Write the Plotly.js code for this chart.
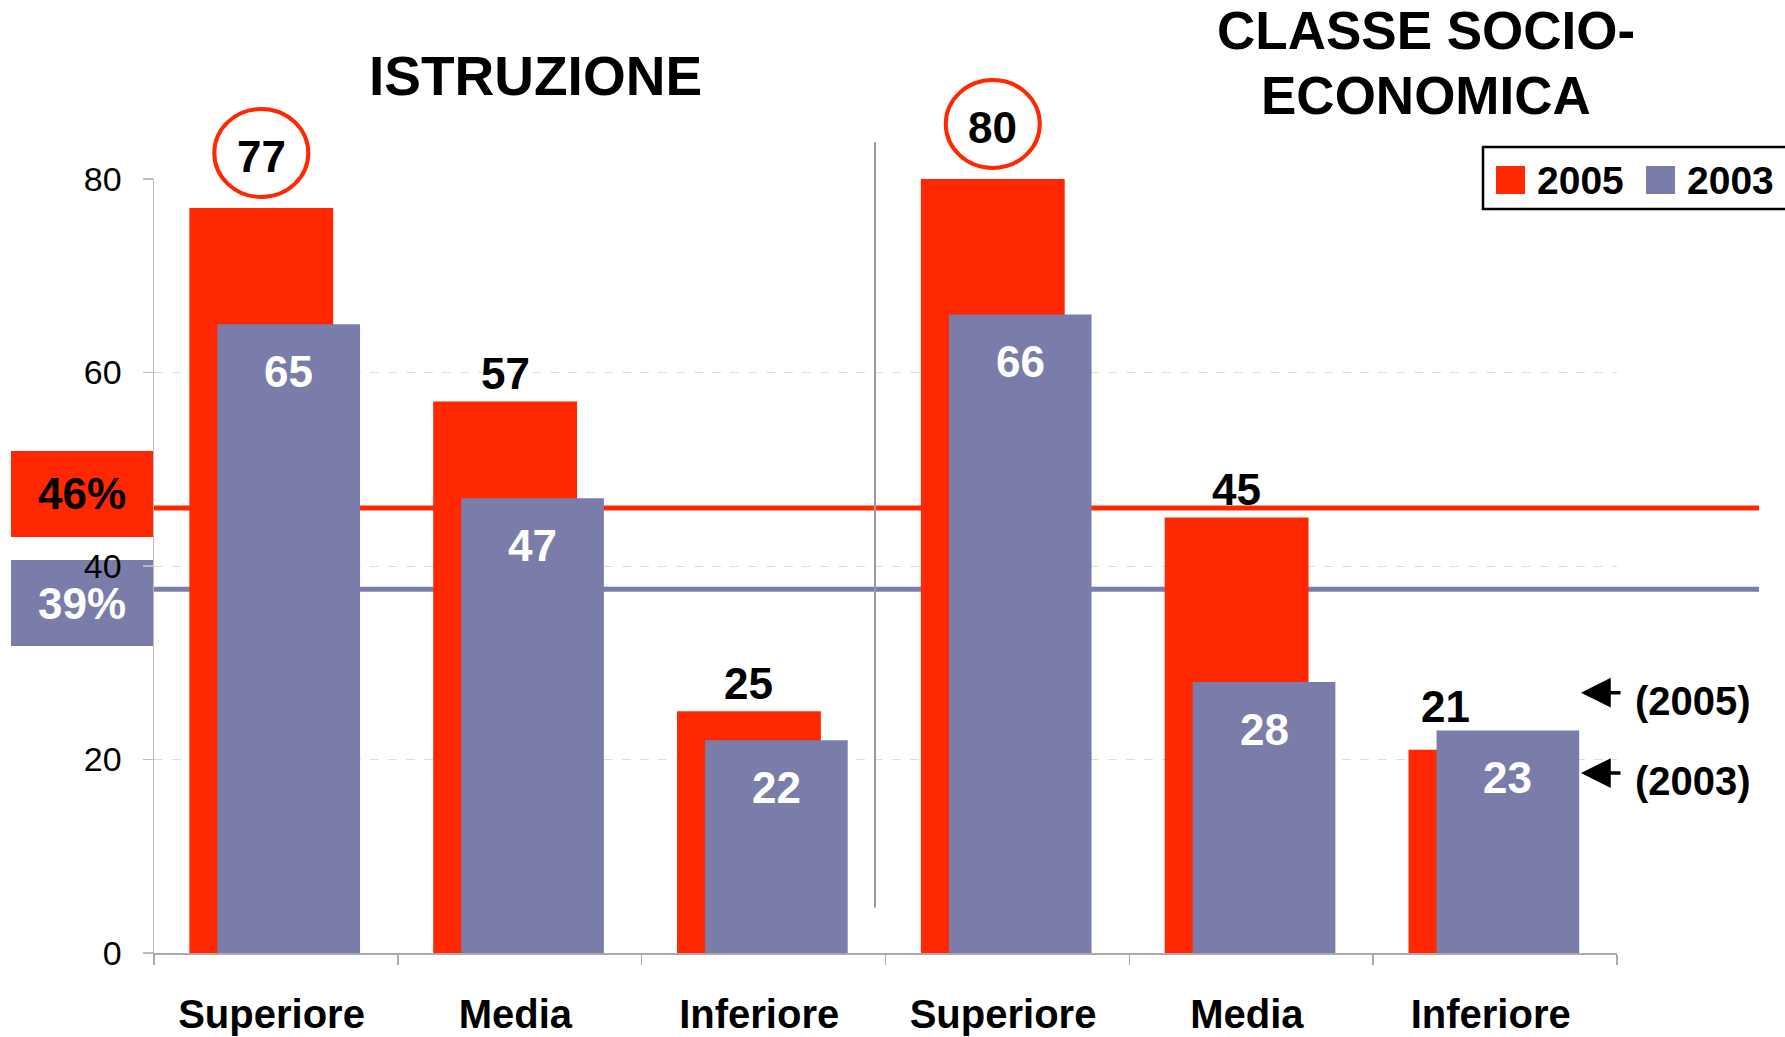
<!DOCTYPE html>
<html>
<head>
<meta charset="utf-8">
<script src="https://cdn.plot.ly/plotly-3.0.1.min.js"></script>
<style>html,body{margin:0;padding:0;background:#fff;}#chart{width:1785px;height:1037px;}</style>
</head>
<body>
<div id="chart"></div>
<script>
// ---- data ----
const categories = ['Superiore', 'Media', 'Inferiore', 'Superiore', 'Media', 'Inferiore'];
const groupTitles = ['ISTRUZIONE', 'CLASSE SOCIO-', 'ECONOMICA'];
const seriesNames = ['2005', '2003'];
const values2005 = [77, 57, 25, 80, 45, 21];
const values2003 = [65, 47, 22, 66, 28, 23];
const refValues = [46, 37.6];
const refLabels = ['46%', '39%'];
const arrowLabels = ['(2005)', '(2003)'];
const arrowValues = [26.9, 18.6];
const yTicks = [0, 20, 40, 60, 80];
const yRange = [0, 80];

// ---- style ----
const RED = 'rgb(255,40,0)';
const BLUE = 'rgb(122,125,170)';
const FONT = 'Liberation Sans, Arial, Helvetica, sans-serif';
const W = 1785, H = 1037;
const M = {l: 154, r: 168, t: 179, b: 84};
const PW = W - M.l - M.r, PH = H - M.t - M.b;
const px2x = p => (p - M.l) / PW;
const py2y = p => (H - M.b - p) / PH;
const v2paper = v => (v - yRange[0]) / (yRange[1] - yRange[0]);

const xs = categories.map((_, i) => i);
const RED_W = 0.59, RED_OFF = -0.355;
const BLUE_W = 0.585, BLUE_OFF = -0.24;
const redCenter = RED_OFF + RED_W / 2;
const blueCenter = BLUE_OFF + BLUE_W / 2;
const LABEL_NUDGE = -0.018;

const traces = [
  {type: 'bar', name: seriesNames[0], x: xs, y: values2005, width: RED_W, offset: RED_OFF,
   marker: {color: RED}, hoverinfo: 'skip', showlegend: false},
  {type: 'bar', name: seriesNames[1], x: xs, y: values2003, width: BLUE_W, offset: BLUE_OFF,
   marker: {color: BLUE}, hoverinfo: 'skip', showlegend: false}
];

// group maxima get circles
const circled = [];
for (let g = 0; g < categories.length; g += 3) {
  let best = g;
  for (let k = g; k < g + 3; k++) if (values2005[k] > values2005[best]) best = k;
  circled.push(best);
}

const shapes = [];
const annotations = [];

// reference lines and boxes
const refColors = [RED, BLUE];
const refTextColors = ['black', 'white'];
const boxCentersPx = [494, 603];
refValues.forEach((v, i) => {
  shapes.push({type: 'line', layer: 'below', xref: 'paper', yref: 'y', x0: 0, x1: px2x(1759), y0: v, y1: v,
    line: {color: refColors[i], width: 5}});
  shapes.push({type: 'rect', layer: 'below', xref: 'paper', yref: 'paper', x0: px2x(11), x1: 0,
    y0: py2y(boxCentersPx[i] + 43), y1: py2y(boxCentersPx[i] - 43), fillcolor: refColors[i], line: {width: 0}});
  annotations.push({xref: 'paper', yref: 'paper', x: px2x(82), y: py2y(boxCentersPx[i]), text: '<b>' + refLabels[i] + '</b>',
    showarrow: false, xanchor: 'center', yanchor: 'middle', font: {family: FONT, size: 44, color: refTextColors[i]}});
});

// separator between groups
shapes.push({type: 'line', xref: 'paper', yref: 'paper', x0: px2x(875), x1: px2x(875), y0: v2paper(4.7), y1: v2paper(83.8),
  line: {color: '#999', width: 2}});

// circles
circled.forEach(i => {
  shapes.push({type: 'circle', xref: 'x', yref: 'paper', xsizemode: 'pixel', ysizemode: 'pixel',
    xanchor: i + redCenter, yanchor: v2paper(values2005[i]), x0: -47, x1: 47, y0: 11, y1: 99,
    line: {color: RED, width: 4}});
});

// value labels
xs.forEach(i => {
  const v5 = values2005[i], v3 = values2003[i];
  let ax = i + redCenter, ay = v5, shift = 28;
  if (v3 > v5) { ax = i - 0.203; ay = v3; shift = 24; }
  else if (circled.includes(i)) { shift = 52; }
  annotations.push({xref: 'x', yref: 'y', x: ax, y: ay, yshift: shift, text: '<b>' + v5 + '</b>',
    showarrow: false, xanchor: 'center', yanchor: 'middle', font: {family: FONT, size: 44, color: 'black'}});
  annotations.push({xref: 'x', yref: 'y', x: i + blueCenter, y: v3, yshift: -47, text: '<b>' + v3 + '</b>',
    showarrow: false, xanchor: 'center', yanchor: 'middle', font: {family: FONT, size: 44, color: 'white'}});
});

// group titles
annotations.push({xref: 'paper', yref: 'paper', x: px2x(535), y: py2y(76), text: '<b>' + groupTitles[0] + '</b>',
  showarrow: false, xanchor: 'center', yanchor: 'middle', font: {family: FONT, size: 55, color: 'black'}});
annotations.push({xref: 'paper', yref: 'paper', x: px2x(1426), y: py2y(31), text: '<b>' + groupTitles[1] + '</b>',
  showarrow: false, xanchor: 'center', yanchor: 'middle', font: {family: FONT, size: 53, color: 'black'}});
annotations.push({xref: 'paper', yref: 'paper', x: px2x(1426), y: py2y(95), text: '<b>' + groupTitles[2] + '</b>',
  showarrow: false, xanchor: 'center', yanchor: 'middle', font: {family: FONT, size: 53, color: 'black'}});

// arrows
arrowValues.forEach((v, i) => {
  annotations.push({xref: 'paper', yref: 'y', x: px2x(1581), y: v, ax: 41, ay: 0, text: '',
    showarrow: true, arrowhead: 2, arrowsize: 1.7, arrowwidth: 3.5, arrowcolor: 'black', standoff: 0});
  annotations.push({xref: 'paper', yref: 'y', x: px2x(1633), y: v, yshift: -8, text: '<b>' + arrowLabels[i] + '</b>',
    showarrow: false, xanchor: 'left', yanchor: 'middle', font: {family: FONT, size: 40, color: 'black'}});
});

// custom legend
shapes.push({type: 'rect', xref: 'paper', yref: 'paper', x0: px2x(1483), x1: px2x(1790), y0: py2y(209), y1: py2y(147),
  fillcolor: 'white', line: {color: 'black', width: 2.5}});
const legendColors = [RED, BLUE];
const legendSquareX = [1496, 1646];
seriesNames.forEach((n, i) => {
  shapes.push({type: 'rect', xref: 'paper', yref: 'paper', x0: px2x(legendSquareX[i]), x1: px2x(legendSquareX[i] + 29),
    y0: py2y(194), y1: py2y(166), fillcolor: legendColors[i], line: {width: 0}});
  annotations.push({xref: 'paper', yref: 'paper', x: px2x(legendSquareX[i] + 39), y: py2y(181), text: '<b>' + n + '</b>',
    showarrow: false, xanchor: 'left', yanchor: 'middle', font: {family: FONT, size: 39, color: 'black'}});
});

const layout = {
  width: W, height: H,
  margin: M,
  paper_bgcolor: 'white', plot_bgcolor: 'white',
  barmode: 'overlay',
  showlegend: false,
  font: {family: FONT, color: 'black'},
  xaxis: {
    range: [-0.5, 5.5], tickvals: xs.map(i => i + LABEL_NUDGE), ticktext: categories, ticks: '',
    tickfont: {family: FONT, size: 40, color: 'black', weight: 'bold'},
    ticklabelstandoff: 25,
    showline: true, linecolor: '#aaa', linewidth: 2, showgrid: false, zeroline: false,
    minor: {tickvals: [-0.5, 0.5, 1.5, 2.5, 3.5, 4.5, 5.5], ticks: 'outside', ticklen: 10, tickcolor: '#aaa', tickwidth: 1.5, showgrid: false}
  },
  yaxis: {
    range: yRange, tickvals: yTicks, ticks: 'outside', ticklen: 10, tickcolor: '#bbb', tickwidth: 1.5,
    tickfont: {family: FONT, size: 34, color: 'black'},
    ticklabelstandoff: 14,
    showline: true, linecolor: '#bbb', linewidth: 1.5,
    showgrid: true, gridcolor: '#dddddd', griddash: 'dash', gridwidth: 1, zeroline: false
  },
  shapes: shapes,
  annotations: annotations
};

Plotly.newPlot('chart', traces, layout, {staticPlot: true, displayModeBar: false});
</script>
</body>
</html>
